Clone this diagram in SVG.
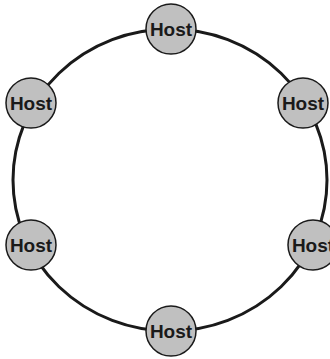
<svg xmlns="http://www.w3.org/2000/svg" width="330" height="359" viewBox="0 0 330 359">
<style>
.ring{fill:none;stroke:#1a1a1a;stroke-width:3}
.host circle{fill:#c0c0c0;stroke:#1a1a1a;stroke-width:1.5}
.host text{font-family:"Liberation Sans",Arial,sans-serif;font-weight:bold;font-size:19px;fill:#1a1a1a;text-anchor:middle}
</style>
<rect width="330" height="359" fill="#ffffff"/>
<g id="connectors">
<ellipse class="ring" cx="170" cy="180" rx="157" ry="151"/>
</g>
<g id="host-top" class="host"><circle cx="171" cy="29" r="25"/><text x="171" y="36">Host</text></g>
<g id="host-top-left" class="host"><circle cx="31" cy="103" r="25"/><text x="31" y="110">Host</text></g>
<g id="host-top-right" class="host"><circle cx="303" cy="103" r="25"/><text x="303" y="110">Host</text></g>
<g id="host-bottom-left" class="host"><circle cx="31" cy="245" r="25"/><text x="31" y="252">Host</text></g>
<g id="host-bottom-right" class="host"><circle cx="313" cy="245" r="25"/><text x="313" y="252">Host</text></g>
<g id="host-bottom" class="host"><circle cx="171" cy="331" r="25"/><text x="171" y="338">Host</text></g>
</svg>
